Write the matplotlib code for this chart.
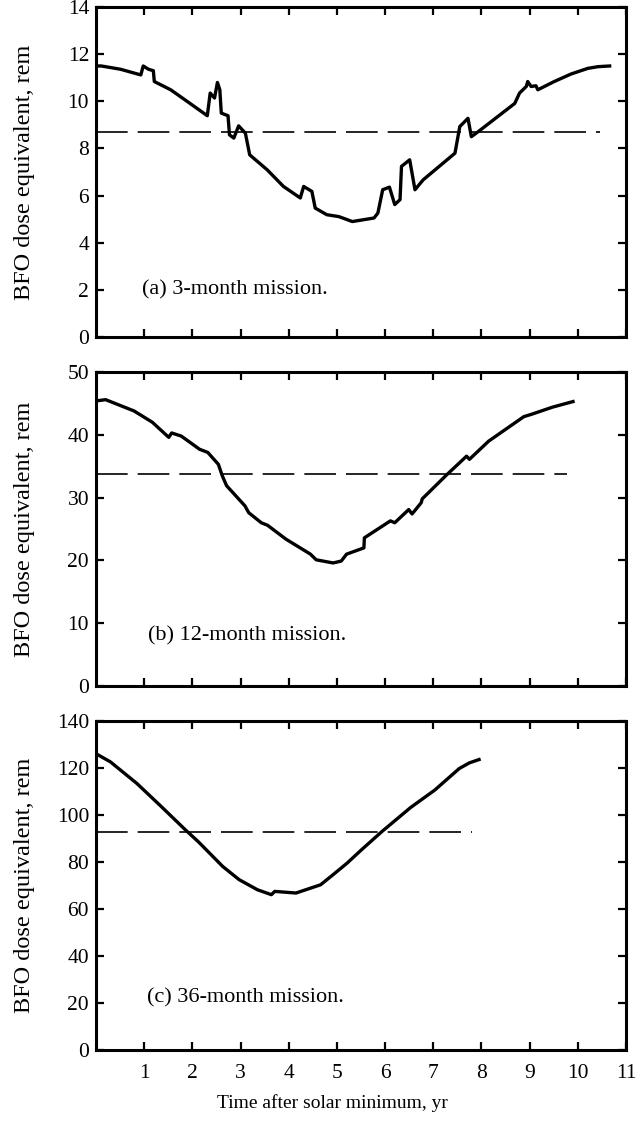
import numpy as np
import matplotlib
matplotlib.use("Agg")
import matplotlib.pyplot as plt

plt.rcParams['font.family'] = ['Liberation Serif', 'DejaVu Serif']

# (a) 3-month mission
t_a = [0.0, 0.11, 0.51, 0.93, 0.98, 1.09, 1.19, 1.21, 1.55, 1.89, 2.31, 2.37, 2.46, 2.52,
       2.57, 2.60, 2.74, 2.77, 2.86, 2.96, 3.10, 3.19, 3.55, 3.89, 4.24, 4.31, 4.48, 4.55,
       4.79, 5.04, 5.32, 5.77, 5.85, 5.95, 6.09, 6.20, 6.31, 6.34, 6.51, 6.62, 6.79, 7.45,
       7.55, 7.72, 7.79, 7.93, 8.69, 8.79, 8.93, 8.96, 9.03, 9.13, 9.17, 9.51, 9.86, 10.21,
       10.42, 10.66]
dose_a = [11.5, 11.5, 11.36, 11.12, 11.5, 11.36, 11.3, 10.84, 10.49, 10.0, 9.39, 10.35, 10.14, 10.8,
          10.49, 9.5, 9.39, 8.58, 8.44, 8.96, 8.65, 7.73, 7.1, 6.39, 5.9, 6.39, 6.18, 5.47,
          5.19, 5.11, 4.9, 5.05, 5.26, 6.25, 6.36, 5.62, 5.83, 7.24, 7.52, 6.25, 6.67, 7.8,
          8.93, 9.28, 8.5, 8.71, 9.91, 10.35, 10.63, 10.84, 10.63, 10.66, 10.49, 10.84, 11.16, 11.4,
          11.47, 11.5]
avg_a = 8.68
avg_a_end = 10.45

# (b) 12-month mission
t_b = [0.0, 0.2, 0.79, 1.17, 1.51, 1.57, 1.77, 2.15, 2.32, 2.54, 2.62, 2.71, 3.09, 3.17,
       3.43, 3.56, 3.94, 4.45, 4.57, 4.92, 5.09, 5.2, 5.56, 5.57, 6.11, 6.2, 6.49, 6.56,
       6.75, 6.77, 7.26, 7.69, 7.75, 8.15, 8.88, 9.05, 9.47, 9.9]
dose_b = [45.4, 45.6, 43.8, 42.0, 39.6, 40.3, 39.8, 37.7, 37.2, 35.3, 33.5, 31.9, 28.7, 27.6,
          26.0, 25.6, 23.4, 21.0, 20.1, 19.6, 19.9, 21.0, 22.0, 23.6, 26.3, 26.0, 28.1, 27.4,
          29.2, 29.8, 33.5, 36.6, 36.1, 39.0, 42.9, 43.3, 44.4, 45.3]
avg_b = 33.7
avg_b_end = 9.77

# (c) 36-month mission
t_c = [0.0, 0.3, 0.85, 1.36, 1.86, 2.12, 2.63, 2.97, 3.35, 3.64, 3.71, 4.15, 4.66, 4.92,
       5.21, 5.51, 5.93, 6.53, 7.03, 7.54, 7.75, 7.95]
dose_c = [126.1, 122.6, 113.4, 103.5, 93.6, 88.7, 78.1, 72.5, 68.2, 66.1, 67.5, 66.8, 70.3, 74.6,
          79.5, 85.2, 92.9, 103.2, 110.6, 119.8, 122.2, 123.6]
avg_c = 92.9
avg_c_end = 7.8

panels = [
    (t_a, dose_a, avg_a, avg_a_end, 14, 2, "(a) 3-month mission.", 0.96, 2.0),
    (t_b, dose_b, avg_b, avg_b_end, 50, 10, "(b) 12-month mission.", 1.08, 8.0),
    (t_c, dose_c, avg_c, avg_c_end, 140, 20, "(c) 36-month mission.", 1.06, 22.0),
]
rects = [
    [0.1493, 0.7033, 0.8243, 0.2905],
    [0.1493, 0.3961, 0.8243, 0.2764],
    [0.1493, 0.0757, 0.8243, 0.2896],
]

fig = plt.figure(figsize=(6.43, 11.36), dpi=100)

for i, (t, d, avg, avg_end, ymax, ystep, note, nx, ny) in enumerate(panels):
    ax = fig.add_axes(rects[i])
    ax.plot(t, d, color='black', lw=2.4, solid_joinstyle='round')
    ax.plot([0, avg_end], [avg, avg], color='black', lw=1.2, dashes=(19, 6))
    ax.text(nx, ny, note, fontsize=16, va='center', ha='left')
    ax.set_xlim(0, 11)
    ax.set_ylim(0, ymax)
    ax.set_xticks(np.arange(1, 12))
    ax.set_yticks(np.arange(0, ymax + 1, ystep))
    ax.tick_params(axis='both', direction='in', top=True, right=True,
                   length=5.5, width=1.6, labelsize=15.5)
    ax.tick_params(axis='y', pad=5)
    ax.tick_params(axis='x', pad=10)
    for s in ax.spines.values():
        s.set_linewidth(2.2)
    if i < 2:
        ax.set_xticklabels([])
    ax.set_ylabel("BFO dose equivalent, rem", fontsize=17.5)
    ax.yaxis.set_label_coords(-0.115, 0.5)

fig.text(332 / 643, 1 - 1103 / 1136, "Time after solar minimum, yr",
         fontsize=14, ha='center', va='center')

fig.savefig("out.png", dpi=100)
